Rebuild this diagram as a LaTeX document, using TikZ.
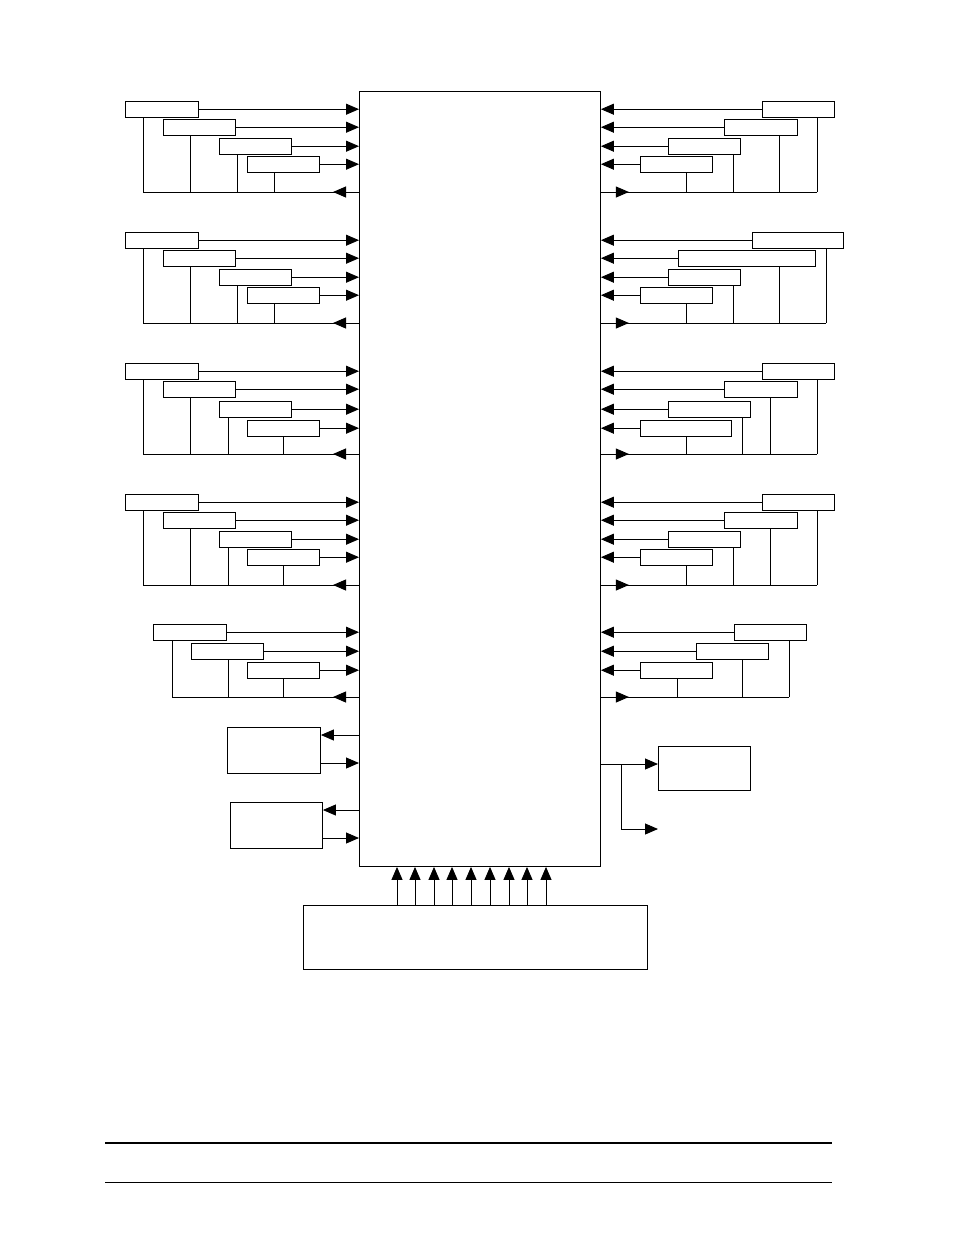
\documentclass[tikz,border=0pt]{standalone}
\usetikzlibrary{arrows.meta}
\begin{document}
\begin{tikzpicture}[x=1pt,y=-1pt,line width=0.9pt,
  tip/.style={-{Triangle[length=13pt,width=11pt]}},
  box/.style={draw,line width=0.9pt,inner sep=0pt}]
\useasboundingbox (0,0) rectangle (954,1235);
\node[box,minimum width=241pt,minimum height=775pt,anchor=north west] (main) at (359,91) {};
% left rows: x1,x2,ytop,dropx,busy,name
\foreach \xa/\xb/\yt/\dx/\by/\nm in {
 125/198/101/143/192/la1,163/235/119/190/192/la2,219/291/138/237/192/la3,247/319/156/274/192/la4,
 125/198/232/143/323/lb1,163/235/250/190/323/lb2,219/291/269/237/323/lb3,247/319/287/274/323/lb4,
 125/198/363/143/454/lc1,163/235/381/190/454/lc2,219/291/401/228/454/lc3,247/319/420/283/454/lc4,
 125/198/494/143/585/ld1,163/235/512/190/585/ld2,219/291/531/228/585/ld3,247/319/549/283/585/ld4,
 153/226/624/172/697/le1,191/263/643/228/697/le2,247/319/662/283/697/le3}{
  \node[box,minimum width={\xb-\xa},minimum height=15.5pt,anchor=north west] (\nm) at (\xa,\yt) {};
  \draw[tip] (\nm.east) -- (\nm.east -| main.west);
  \coordinate (\nm d) at (\dx,\by);
  \draw (\nm.south -| \nm d) -- (\nm d);
}
% right rows
\foreach \xa/\xb/\yt/\dx/\by/\nm in {
 762/834/101/817/192/ra1,724/797/119/779/192/ra2,668/740/138/733/192/ra3,640/712/156/686/192/ra4,
 752/843/232/826/323/rb1,678/815/250/779/323/rb2,668/740/269/733/323/rb3,640/712/287/686/323/rb4,
 762/834/363/817/454/rc1,724/797/381/770/454/rc2,668/750/401/742/454/rc3,640/731/420/686/454/rc4,
 762/834/494/817/585/rd1,724/797/512/770/585/rd2,668/740/531/733/585/rd3,640/712/549/686/585/rd4,
 734/806/624/789/697/re1,696/768/643/742/697/re2,640/712/662/677/697/re3}{
  \node[box,minimum width={\xb-\xa},minimum height=15.5pt,anchor=north west] (\nm) at (\xa,\yt) {};
  \draw[tip] (\nm.west) -- (\nm.west -| main.east);
  \coordinate (\nm d) at (\dx,\by);
  \draw (\nm.south -| \nm d) -- (\nm d);
}
% buses
\foreach \by/\lx/\rx in {192/143/817,323/143/826,454/143/817,585/143/817,697/172/789}{
  \coordinate (bl) at (\lx,\by); \coordinate (br) at (\rx,\by);
  \draw (bl) -- (bl -| main.west);
  \draw[tip] (bl -| main.west) -- ++(-26,0);
  \draw (br) -- (br -| main.east);
  \draw[tip] (br -| main.east) -- ++(28,0);
}
% lower left boxes
\node[box,minimum width=93pt,minimum height=46pt,anchor=north west] (ba) at (227,727) {};
\node[box,minimum width=92pt,minimum height=46pt,anchor=north west] (bb) at (230,802) {};
\draw[tip] (main.west |- 0,735) -- (ba.east |- 0,735);
\draw[tip] (ba.east |- 0,763) -- (main.west |- 0,763);
\draw[tip] (main.west |- 0,810) -- (bb.east |- 0,810);
\draw[tip] (bb.east |- 0,838) -- (main.west |- 0,838);
% right lower box
\node[box,minimum width=92pt,minimum height=44pt,anchor=north west] (bc) at (658,746) {};
\coordinate (sp) at (621,764);
\coordinate (ex) at (658,829);
\draw[tip] (main.east |- sp) -- (bc.west |- sp);
\draw[tip] (sp) |- (ex);
% bottom box
\node[box,minimum width=344pt,minimum height=64pt,anchor=north west] (bd) at (303,905) {};
\foreach \x in {397,415,434,452,471,490,509,527,546}{
  \draw[tip] (bd.north -| \x,0) -- (main.south -| \x,0);
}
% footer lines
\coordinate (f1) at (105,1143); \coordinate (f2) at (832,1143);
\coordinate (f3) at (105,1182); \coordinate (f4) at (832,1182);
\draw[line width=1.4pt] (f1) -- (f2);
\draw[line width=0.8pt] (f3) -- (f4);
\end{tikzpicture}
\end{document}
